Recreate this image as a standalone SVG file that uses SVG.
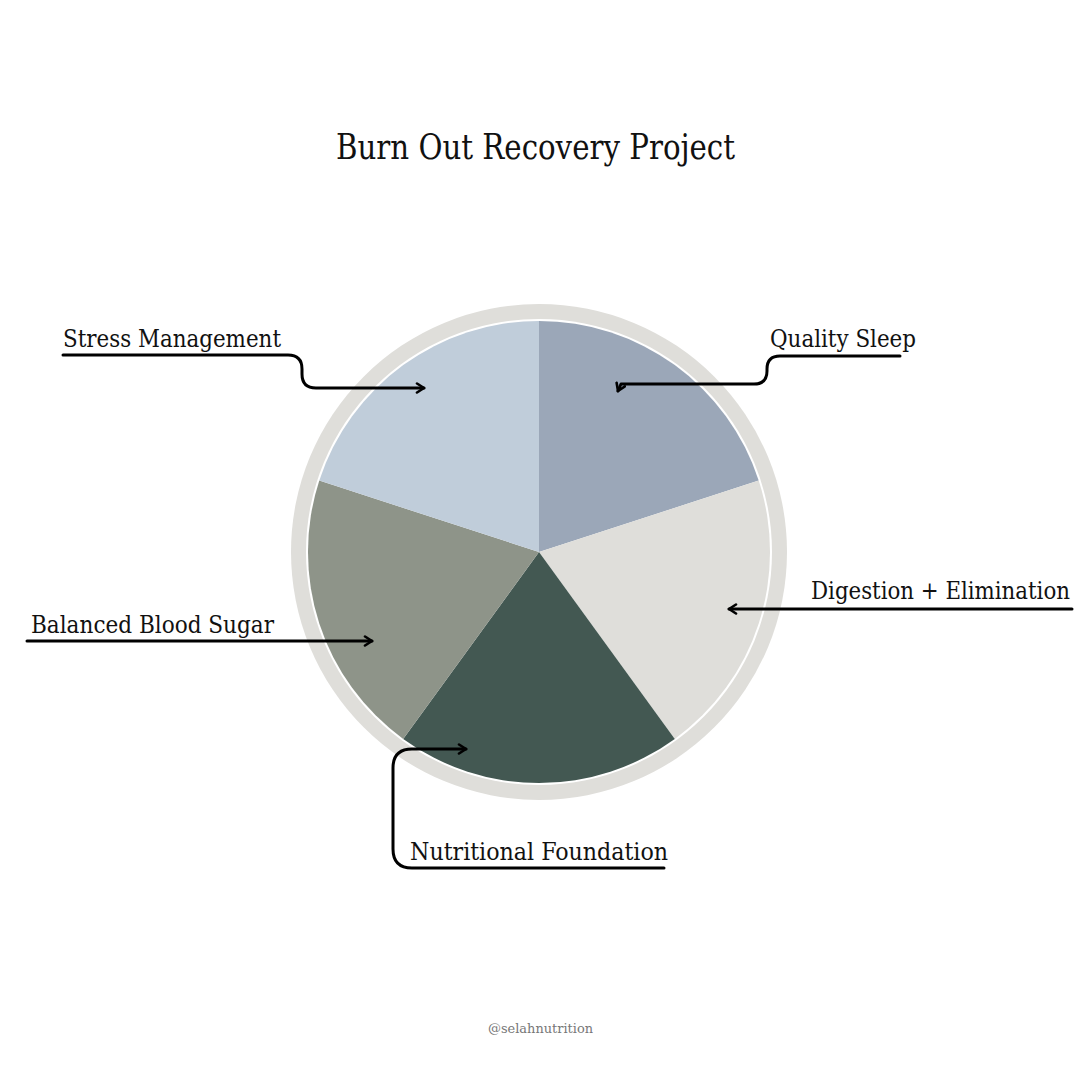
<svg xmlns="http://www.w3.org/2000/svg" width="1080" height="1080" viewBox="0 0 1080 1080">
<style>
  .t{font-family:"DejaVu Serif Condensed","DejaVu Serif","Liberation Serif",serif;font-stretch:condensed;fill:#111}
  .lbl{font-size:25px}
  .ttl{font-size:36px}
  .wm{font-family:"DejaVu Serif","Liberation Serif",serif;font-size:13px;fill:#777}
  .conn{fill:none;stroke:#000;stroke-width:3;stroke-linecap:round;stroke-linejoin:round}
</style>
<defs>
  <marker id="arr" viewBox="0 0 12 12" refX="10" refY="6" markerWidth="12" markerHeight="12" markerUnits="userSpaceOnUse" orient="auto">
    <path d="M3,1.5 L10,6 L3,10.5" fill="none" stroke="#000" stroke-width="2.6" stroke-linecap="round" stroke-linejoin="round"/>
  </marker>
</defs>
<rect width="1080" height="1080" fill="#ffffff"/>

<text class="t ttl" x="336" y="159" textLength="399" lengthAdjust="spacingAndGlyphs">Burn Out Recovery Project</text>

<g id="pie">
  <circle cx="539" cy="552" r="248" fill="#DFDEDA"/>
  <circle cx="539" cy="552" r="233" fill="#ffffff"/>
  <g id="slice-quality-sleep"><path d="M539,552 L539,321 A231,231 0 0 1 758.7,480.6 Z" fill="#9BA7B8"/></g>
  <g id="slice-digestion"><path d="M539,552 L758.7,480.6 A231,231 0 0 1 674.8,738.9 Z" fill="#DFDEDA"/></g>
  <g id="slice-nutritional"><path d="M539,552 L674.8,738.9 A231,231 0 0 1 403.2,738.9 Z" fill="#435852"/></g>
  <g id="slice-blood-sugar"><path d="M539,552 L403.2,738.9 A231,231 0 0 1 319.3,480.6 Z" fill="#8E9489"/></g>
  <g id="slice-stress"><path d="M539,552 L319.3,480.6 A231,231 0 0 1 539,321 Z" fill="#C0CDDA"/></g>
</g>

<g id="connectors">
  <path class="conn" d="M63,355 H288 Q302,355 302,369 V374 Q302,388 316,388 H424" marker-end="url(#arr)"/>
  <path class="conn" d="M900,356 H780 Q767,356 767,369 V371 Q767,384 754,384 H621 L618,391" marker-end="url(#arr)"/>
  <path class="conn" d="M1072,609 H729" marker-end="url(#arr)"/>
  <path class="conn" d="M27,641 H372" marker-end="url(#arr)"/>
  <path class="conn" d="M664,868 H412 Q393,868 393,849 V768 Q393,749 412,749 H466" marker-end="url(#arr)"/>
</g>

<g id="node-stress"><text class="t lbl" x="63" y="347" textLength="218" lengthAdjust="spacingAndGlyphs">Stress Management</text></g>
<g id="node-quality-sleep"><text class="t lbl" x="770" y="347" textLength="146" lengthAdjust="spacingAndGlyphs">Quality Sleep</text></g>
<g id="node-digestion"><text class="t lbl" x="811" y="599" textLength="259" lengthAdjust="spacingAndGlyphs">Digestion + Elimination</text></g>
<g id="node-blood-sugar"><text class="t lbl" x="31" y="633" textLength="243" lengthAdjust="spacingAndGlyphs">Balanced Blood Sugar</text></g>
<g id="node-nutritional"><text class="t lbl" x="410" y="860" textLength="258" lengthAdjust="spacingAndGlyphs">Nutritional Foundation</text></g>

<text class="wm" x="488" y="1033" textLength="105" lengthAdjust="spacingAndGlyphs">@selahnutrition</text>
</svg>
